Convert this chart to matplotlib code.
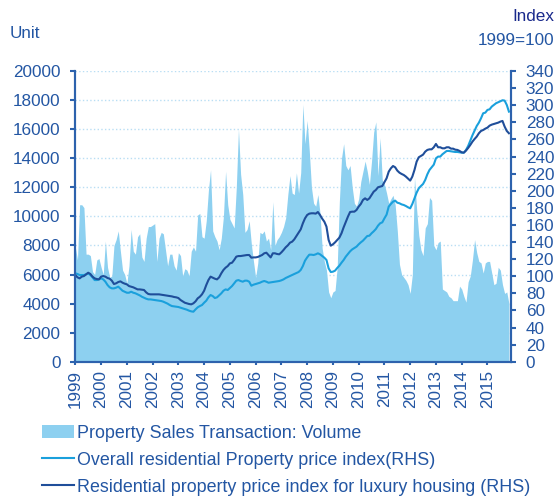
import numpy as np
import matplotlib.pyplot as plt
from matplotlib.patches import Patch
from matplotlib.lines import Line2D

plt.rcParams['font.family'] = ['Liberation Sans', 'DejaVu Sans']

# monthly data, Jan 1999 - Nov 2015
start_year = 1999
years = list(range(1999, 2016))

volume = [
    7900, 7000, 10800, 10800, 10600, 7400, 7400, 7300, 6200, 6000, 7000, 7100,      # 1999
    6500, 6000, 8300, 6500, 5800, 5900, 8000, 8400, 9000, 7600, 6300, 6000,         # 2000
    5400, 6600, 9100, 7600, 7400, 8600, 8800, 7200, 6900, 8500, 9300, 9300,         # 2001
    9400, 9500, 6900, 8500, 8900, 8800, 7700, 6600, 7400, 7400, 6600, 6300,         # 2002
    7500, 7300, 5900, 6400, 6300, 5900, 7600, 7900, 7600, 10100, 10200, 8600,       # 2003
    8500, 9700, 11800, 13200, 9000, 8600, 8300, 7700, 8500, 10000, 13100, 10800,    # 2004
    9800, 9500, 9200, 12000, 16000, 12900, 11500, 8900, 9100, 9700, 8100, 6900,     # 2005
    5800, 6800, 8900, 8800, 9000, 8300, 8500, 7700, 11000, 8000, 8400, 8600,        # 2006
    8900, 9300, 9900, 11500, 12800, 11600, 11500, 13000, 11600, 13000, 17700, 15000,   # 2007
    16600, 14500, 12000, 10900, 10700, 11500, 10200, 7800, 6900, 6300, 4800, 4400,     # 2008
    4800, 4900, 6500, 11000, 14000, 15000, 13500, 13200, 13500, 12000, 10900, 10700,   # 2009
    11200, 12400, 13100, 13800, 13100, 12200, 13800, 15800, 16500, 12800, 15400, 12500,  # 2010
    12200, 11600, 10900, 11200, 11450, 10800, 9000, 6700, 6000, 5800, 5600, 5300,    # 2011
    4700, 6000, 12700, 10500, 8700, 7700, 7300, 9200, 9500, 11300, 11100, 8000,      # 2012
    7700, 8200, 8300, 5000, 4900, 4800, 4500, 4400, 4200, 4200, 4200, 5200,         # 2013
    5000, 4500, 4100, 5500, 5900, 7000, 8400, 7500, 6900, 6800, 6100, 6800,         # 2014
    6900, 6900, 6100, 5300, 5400, 6500, 6300, 5300, 4700, 4800, 4000,               # 2015
]

overall_index = [
    103.4, 102.6, 101.4, 101.4, 101.4, 102.2, 103.4, 101.4, 98.7, 95.5, 95.5, 96.3,
    97.5, 96.3, 93.6, 89.7, 87.0, 85.8, 85.8, 86.6, 87.8, 85.4, 83.0, 81.9,
    80.7, 80.7, 81.9, 80.7, 80.0, 78.8, 77.6, 76.0, 74.9, 73.7, 72.9, 72.9,
    72.5, 72.2, 71.8, 71.4, 71.0, 70.2, 69.0, 67.9, 66.3, 65.1, 64.7, 64.4,
    64.0, 63.2, 62.4, 61.6, 60.8, 59.7, 58.9, 58.5, 61.2, 63.6, 65.1, 66.3,
    69.0, 71.4, 75.3, 78.0, 76.8, 74.5, 75.3, 77.6, 80.0, 83.0, 84.6, 83.9,
    86.2, 88.5, 91.7, 94.8, 95.5, 94.4, 93.6, 94.8, 94.8, 93.6, 88.9, 90.1,
    90.9, 91.7, 92.4, 93.6, 94.4, 93.6, 92.4, 92.8, 93.2, 93.6, 94.0, 94.4,
    95.2, 96.3, 97.9, 99.1, 100.2, 101.4, 102.6, 103.7, 104.9, 107.3, 111.9, 118.2,
    122.0, 125.2, 125.2, 124.8, 125.6, 126.8, 125.6, 123.6, 121.7, 119.0, 109.2, 104.9,
    105.3, 106.5, 109.6, 112.3, 115.8, 119.0, 122.9, 126.0, 129.1, 131.4, 133.0, 134.6,
    137.3, 139.6, 141.6, 144.3, 147.0, 147.4, 150.2, 152.5, 155.2, 159.1, 161.9, 163.0,
    167.7, 172.0, 181.4, 184.5, 187.2, 188.4, 186.0, 185.3, 184.0, 183.3, 182.1, 180.6,
    179.4, 184.5, 191.1, 197.7, 202.8, 205.5, 207.9, 212.6, 219.2, 224.3, 227.4, 230.5,
    237.9, 239.9, 239.9, 242.6, 244.5, 246.5, 246.5, 246.1, 245.7, 245.3, 245.3, 244.9,
    244.5, 244.5, 247.7, 252.3, 258.6, 264.8, 270.3, 275.7, 279.6, 284.7, 290.6, 291.3,
    294.5, 295.2, 298.4, 300.3, 302.3, 303.4, 304.6, 305.8, 305.4, 300.3, 292.5,
]

luxury_index = [
    101.4, 98.7, 97.5, 99.5, 100.2, 102.2, 104.1, 102.6, 99.5, 97.5, 96.7, 96.3,
    99.5, 100.2, 99.5, 97.9, 97.1, 94.8, 90.9, 91.7, 93.2, 94.0, 92.4, 91.3,
    90.5, 88.5, 87.8, 87.0, 85.8, 84.6, 84.6, 84.2, 83.9, 81.1, 79.2, 78.8,
    78.8, 78.8, 78.8, 78.8, 78.4, 78.0, 77.6, 77.2, 76.8, 76.4, 75.7, 75.3,
    74.5, 72.2, 70.6, 69.0, 68.3, 67.5, 67.1, 68.3, 70.6, 74.1, 76.0, 78.8,
    83.0, 89.7, 95.5, 99.5, 98.3, 97.1, 96.3, 98.7, 103.4, 107.3, 110.0, 111.9,
    115.0, 115.8, 119.0, 122.9, 123.6, 123.6, 124.0, 124.4, 124.8, 124.8, 121.7, 122.0,
    122.0, 122.5, 123.6, 124.8, 126.8, 127.5, 124.8, 122.0, 126.8, 126.8, 126.0, 125.6,
    127.9, 130.7, 133.8, 136.1, 139.2, 140.4, 143.1, 147.0, 150.9, 154.8, 161.9, 167.7,
    171.6, 173.2, 173.6, 173.6, 173.2, 175.1, 171.6, 167.3, 163.8, 158.0, 142.4, 135.7,
    137.3, 139.6, 142.4, 145.1, 150.2, 157.2, 163.4, 169.7, 175.1, 175.5, 175.5, 177.5,
    181.4, 184.5, 189.2, 191.1, 189.2, 191.1, 195.0, 198.9, 200.9, 204.0, 204.8, 205.5,
    210.0, 214.5, 222.3, 226.2, 228.9, 227.4, 223.5, 221.1, 219.6, 218.4, 216.5, 214.1,
    211.8, 216.5, 224.3, 234.0, 239.1, 240.6, 242.2, 245.7, 247.7, 248.4, 248.4, 250.8,
    254.7, 250.8, 250.8, 249.6, 249.6, 250.8, 250.8, 249.2, 249.2, 248.0, 247.7, 246.5,
    244.9, 244.5, 246.9, 250.0, 253.5, 257.4, 260.5, 263.3, 267.2, 269.9, 271.0, 272.6,
    273.8, 276.1, 277.3, 278.1, 278.8, 279.6, 280.8, 281.6, 275.0, 269.9, 267.2,
]

area_col = '#8dd0f0'
light_col = '#1aa0dc'
dark_col = '#1f4e9a'
txt_col = '#2356a3'
axis_col = '#2d62ad'
fs = 12.3

t = start_year + np.arange(len(volume)) / 12.0

fig = plt.figure(figsize=(5.58, 4.99), dpi=100)
ax = fig.add_axes([0.135, 0.2751, 0.7809, 0.5826])
ax2 = ax.twinx()

ax.fill_between(t, volume, 0, color=area_col, linewidth=0, zorder=2)
ax.set_xlim(start_year, start_year + len(volume) / 12.0)
ax.set_ylim(0, 20000)
ax.set_yticks(range(0, 20001, 2000))
ax.yaxis.grid(True, linestyle=':', color='#b9def4', linewidth=1.0, zorder=1)
ax.set_axisbelow(True)

ax2.plot(t, overall_index, color=light_col, linewidth=1.5)
ax2.plot(t, luxury_index, color=dark_col, linewidth=1.5)
ax2.set_ylim(0, 340)
ax2.set_yticks(range(0, 341, 20))

ax.set_xticks(years)
ax.set_xticklabels([str(y) for y in years], rotation=90)

for a in (ax, ax2):
    for s in a.spines.values():
        s.set_color(axis_col)
        s.set_linewidth(1.5)
    a.spines['top'].set_visible(False)
    a.tick_params(colors=axis_col, labelcolor=txt_col, width=1.5,
                  labelsize=fs)
    a.tick_params(axis='y', length=3.6, pad=7)
ax.tick_params(axis='x', length=2.5, pad=3.5)

fig.text(0.018, 0.932, 'Unit', color=txt_col, fontsize=fs, va='center')
fig.text(0.993, 0.966, 'Index', color='#1a2a8c', fontsize=fs, va='center', ha='right')
fig.text(0.993, 0.919, '1999=100', color=txt_col, fontsize=fs, va='center', ha='right')

handles = [
    Patch(facecolor=area_col, edgecolor='none'),
    Line2D([], [], color=light_col, linewidth=1.5),
    Line2D([], [], color=dark_col, linewidth=1.5),
]
labels = [
    'Property Sales Transaction: Volume',
    'Overall residential Property price index(RHS)',
    'Residential property price index for luxury housing (RHS)',
]
fig.legend(handles, labels, loc='upper left', bbox_to_anchor=(0.062, 0.163),
           frameon=False, fontsize=12.9, labelcolor=txt_col, handlelength=1.8,
           handletextpad=0.15, labelspacing=0.55, borderaxespad=0)

fig.savefig('out.png', dpi=100)
